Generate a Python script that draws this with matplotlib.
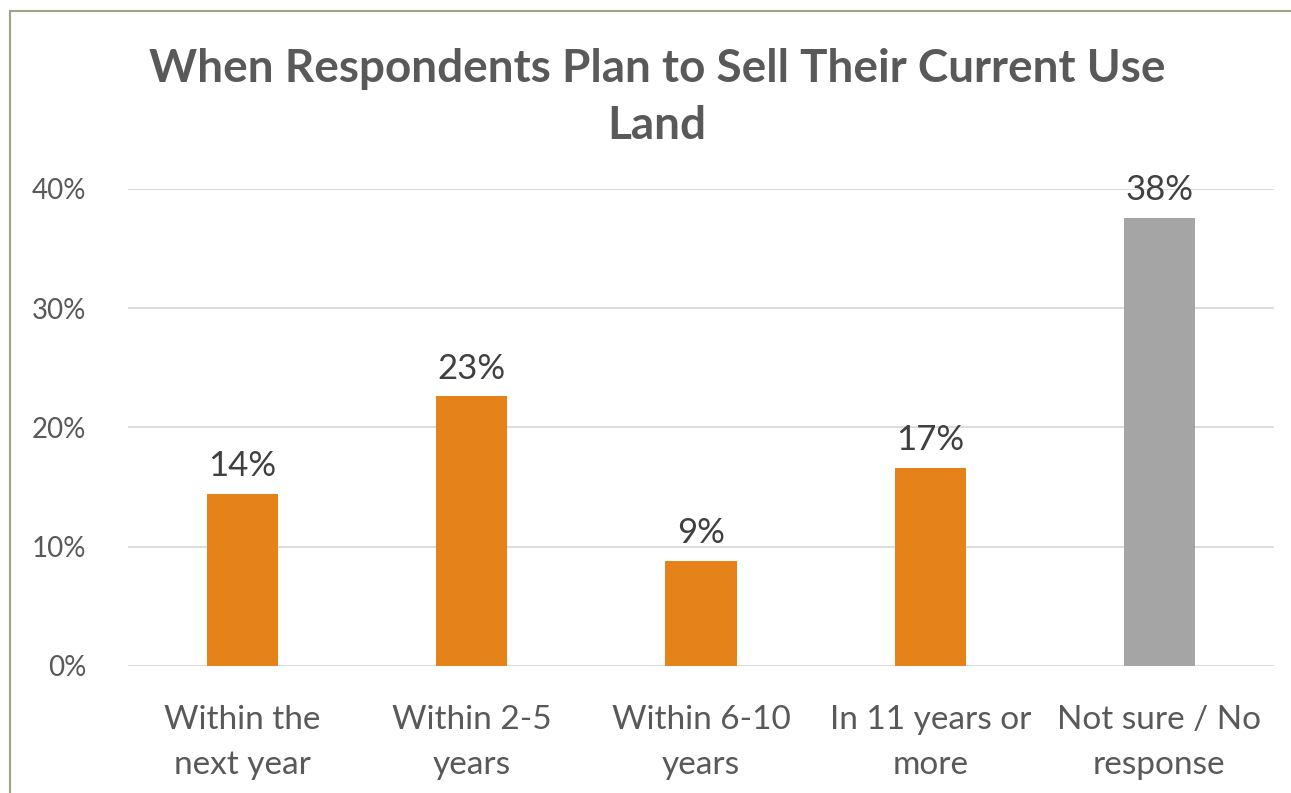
import matplotlib.pyplot as plt
from matplotlib.patches import Rectangle

categories = ["Within the\nnext year", "Within 2-5\nyears", "Within 6-10\nyears",
              "In 11 years or\nmore", "Not sure / No\nresponse"]
values = [14.4, 22.6, 8.8, 16.6, 37.6]
bar_colors = ["#E6821A", "#E6821A", "#E6821A", "#E6821A", "#A5A5A5"]
yticks = [0, 10, 20, 30, 40]

plt.rcParams['font.family'] = ['Lato', 'DejaVu Sans']

fig = plt.figure(figsize=(12.91, 7.93), dpi=100)
ax = fig.add_axes([0.0992, 0.1602, 0.8876, 0.6015])

x = range(len(categories))
bars = ax.bar(x, values, width=0.31, color=bar_colors, zorder=3)

for rect, v in zip(bars, values):
    ax.text(rect.get_x() + rect.get_width() / 2, v + 1.0, f"{round(v)}%",
            ha='center', va='bottom', fontsize=25, color='#404040')

ax.set_xlim(-0.5, len(categories) - 0.5)
ax.set_ylim(0, 40)
ax.set_yticks(yticks)
ax.set_yticklabels([f"{t}%" for t in yticks], fontsize=20, color='#595959')
ax.set_xticks(list(x))
ax.set_xticklabels(categories, fontsize=24, color='#595959', linespacing=1.62)
ax.tick_params(axis='both', length=0)
ax.tick_params(axis='x', pad=28)
ax.tick_params(axis='y', pad=30)
ax.grid(axis='y', color='#D9D9D9', linewidth=1.3, zorder=0)
for s in ax.spines.values():
    s.set_visible(False)

fig.text(0.509, 0.877, "When Respondents Plan to Sell Their Current Use\nLand",
         ha='center', va='center', fontsize=33, fontweight='bold', color='#595959',
         linespacing=1.45)

# outer chart border (only top and left fall inside the crop)
fig.patches.append(Rectangle((10 / 1291, -0.1), 1.2, 1 - 11 / 793 + 0.1,
                             transform=fig.transFigure, fill=False,
                             edgecolor='#9AA58A', linewidth=1.5))

fig.savefig("out.png", dpi=100)
